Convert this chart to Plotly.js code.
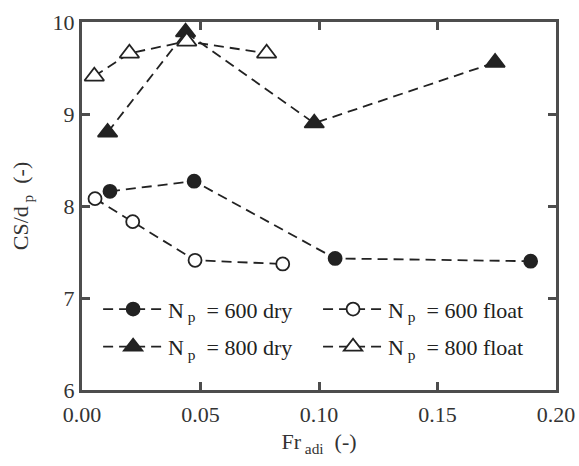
<!DOCTYPE html>
<html><head><meta charset="utf-8">
<script src="https://cdn.plot.ly/plotly-3.0.1.min.js"></script>
<style>html,body{margin:0;padding:0;background:#fff}#chart{width:579px;height:466px}</style>
</head><body><div id="chart"></div>
<script>
const dry600X = [0.0118, 0.0473, 0.1068, 0.1893];
const dry600Y = [8.16, 8.27, 7.43, 7.40];
const float600X = [0.0055, 0.0214, 0.0477, 0.0847];
const float600Y = [8.08, 7.83, 7.41, 7.37];
const dry800X = [0.0108, 0.0437, 0.0980, 0.1743];
const dry800Y = [8.80, 9.89, 8.90, 9.56];
const float800X = [0.0052, 0.0200, 0.0442, 0.0779];
const float800Y = [9.41, 9.66, 9.79, 9.66];
const NB = '\u00a0';
const names = ['N<sub>' + NB + 'p</sub>' + NB + ' = 600 dry', 'N<sub>' + NB + 'p</sub>' + NB + ' = 600 float',
               'N<sub>' + NB + 'p</sub>' + NB + ' = 800 dry', 'N<sub>' + NB + 'p</sub>' + NB + ' = 800 float'];
const serif = 'Liberation Serif, Times New Roman, Times, serif';

const ink = '#222';
const lineStyle = {color: ink, width: 1.8, dash: '10px,6px'};
function tr(x, y, name, symbol, size, fill, leg, grp) {
  return {x: x, y: y, name: name, type: 'scatter', mode: 'lines+markers',
    line: lineStyle, legend: leg, legendgroup: grp,
    marker: {symbol: symbol, size: size, color: fill, line: {color: ink, width: 1.8}}};
}
const data = [
  tr(dry600X, dry600Y, names[0], 'circle', 13, ink, 'legend', 'a'),
  tr(dry800X, dry800Y, names[2], 'triangle-up', 17, ink, 'legend', 'b'),
  tr(float600X, float600Y, names[1], 'circle', 13, '#fff', 'legend2', 'c'),
  tr(float800X, float800Y, names[3], 'triangle-up', 17, '#fff', 'legend2', 'd')
];

const axisCommon = {showline: true, mirror: 'ticks', linecolor: '#4d4d4d', linewidth: 3,
  ticks: 'inside', ticklen: 8, tickwidth: 3, tickcolor: '#4d4d4d', showgrid: false, zeroline: false,
  tickfont: {family: serif, size: 22, color: '#333'}};
const legendCommon = {orientation: 'v', bgcolor: 'rgba(0,0,0,0)', borderwidth: 0,
  font: {family: serif, size: 22, color: '#222'}, itemwidth: 60,
  yanchor: 'bottom', y: 0.059, xanchor: 'left', tracegroupgap: 6};
const layout = {
  width: 579, height: 466,
  margin: {l: 82, r: 23, t: 22, b: 76},
  paper_bgcolor: '#fff', plot_bgcolor: '#fff',
  font: {family: serif, color: '#333'},
  xaxis: Object.assign({}, axisCommon, {range: [0, 0.2], tickvals: [0, 0.05, 0.1, 0.15, 0.2],
    ticktext: ['0.00', '0.05', '0.10', '0.15', '0.20'], ticklabelstandoff: 3,
    title: {text: 'Fr<sub>' + NB + 'adi</sub>' + NB + ' (-)', font: {family: serif, size: 22, color: '#333'}, standoff: 8}}),
  yaxis: Object.assign({}, axisCommon, {range: [6, 10], tickvals: [6, 7, 8, 9, 10],
    title: {text: 'CS/d<sub>' + NB + 'p</sub>' + NB + ' (-)', font: {family: serif, size: 22, color: '#333'}, standoff: 18}}),
  showlegend: true,
  legend: Object.assign({}, legendCommon, {x: 0.034}),
  legend2: Object.assign({}, legendCommon, {x: 0.498})
};
Plotly.newPlot('chart', data, layout, {displayModeBar: false, staticPlot: true});
</script></body></html>
